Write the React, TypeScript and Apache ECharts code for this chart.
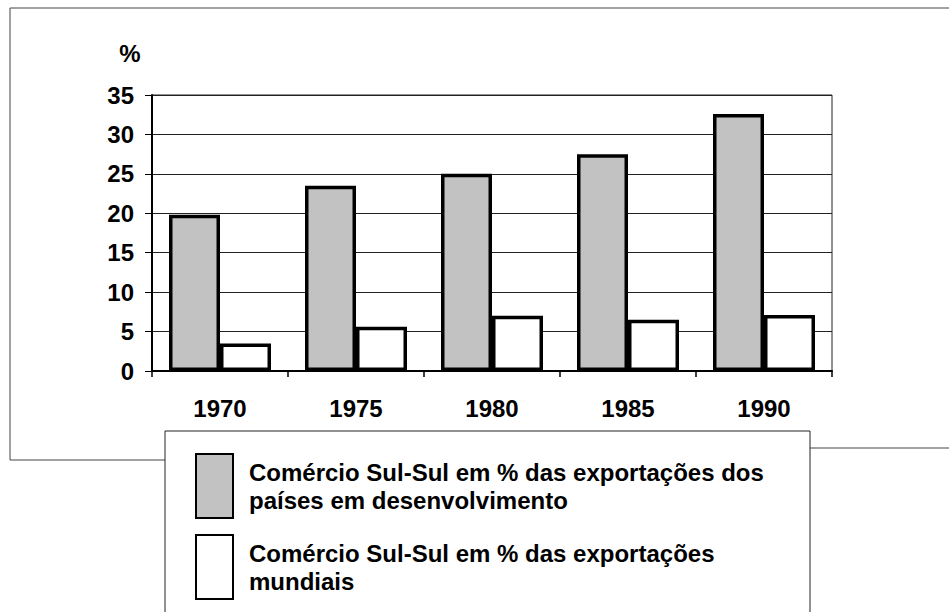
import React, { useEffect, useRef } from "react";
import * as echarts from "echarts";

const categories = ["1970", "1975", "1980", "1985", "1990"];
const seriesNames = [
  "Comércio Sul-Sul em % das exportações dos\npaíses em desenvolvimento",
  "Comércio Sul-Sul em % das exportações\nmundiais",
];
const developingShare = [19.8, 23.5, 25.0, 27.5, 32.6];
const worldShare = [3.5, 5.6, 7.0, 6.5, 7.1];
const yTicks = [0, 5, 10, 15, 20, 25, 30, 35];

const FONT = "'Liberation Sans', Arial, sans-serif";
const FS = 24;

export default function App() {
  const ref = useRef<HTMLDivElement>(null);
  useEffect(() => {
    if (!ref.current) return;
    const chart = echarts.init(ref.current, null, { renderer: "svg" });
    chart.setOption({
      animation: false,
      backgroundColor: "#ffffff",
      textStyle: { fontFamily: FONT },
      grid: {
        left: 152,
        top: 95,
        width: 680,
        height: 276,
        show: true,
        borderColor: "#222",
        borderWidth: 1,
        backgroundColor: "transparent",
      },
      xAxis: {
        type: "category",
        data: categories,
        axisLine: { lineStyle: { color: "#000", width: 2 } },
        axisTick: { show: true, length: 6, lineStyle: { color: "#000", width: 1.5 } },
        axisLabel: {
          margin: 25,
          color: "#000",
          fontSize: FS,
          fontWeight: "bold",
          fontFamily: FONT,
        },
      },
      yAxis: {
        type: "value",
        min: yTicks[0],
        max: yTicks[yTicks.length - 1],
        interval: 5,
        axisLine: { show: true, lineStyle: { color: "#000", width: 2 } },
        axisTick: { show: true, length: 7, lineStyle: { color: "#000", width: 1 } },
        axisLabel: {
          margin: 18,
          color: "#000",
          fontSize: FS,
          fontWeight: "bold",
          fontFamily: FONT,
        },
        splitLine: { show: true, lineStyle: { color: "#222", width: 1 } },
      },
      legend: {
        orient: "vertical",
        left: 195,
        top: 453,
        padding: 0,
        itemWidth: 37,
        itemHeight: 64,
        itemGap: 15,
        icon: "rect",
        data: seriesNames,
        textStyle: {
          color: "#000",
          fontSize: FS,
          fontWeight: "bold",
          fontFamily: FONT,
          lineHeight: 28,
          padding: [0, 0, 0, 11],
        },
      },
      graphic: [
        {
          type: "line",
          shape: { x1: 10, y1: 8, x2: 949, y2: 8 },
          style: { stroke: "#444", lineWidth: 1 },
          z: -10,
        },
        {
          type: "line",
          shape: { x1: 10, y1: 8, x2: 10, y2: 460 },
          style: { stroke: "#444", lineWidth: 1 },
          z: -10,
        },
        {
          type: "line",
          shape: { x1: 10, y1: 460, x2: 165, y2: 460 },
          style: { stroke: "#444", lineWidth: 1 },
          z: -10,
        },
        {
          type: "line",
          shape: { x1: 810, y1: 448, x2: 949, y2: 448 },
          style: { stroke: "#444", lineWidth: 1 },
          z: -10,
        },
        {
          type: "rect",
          shape: { x: 165, y: 431, width: 645, height: 200 },
          style: { fill: "#fff", stroke: "#222", lineWidth: 1 },
          z: -5,
        },
        {
          type: "text",
          x: 130,
          y: 53,
          style: {
            text: "%",
            fill: "#000",
            font: `bold ${FS}px ${FONT}`,
            textAlign: "center",
            textVerticalAlign: "middle",
          },
        },
      ],
      series: [
        {
          name: seriesNames[0],
          type: "bar",
          data: developingShare,
          barGap: "0%",
          barCategoryGap: "25%",
          itemStyle: { color: "#c2c2c2", borderColor: "#000", borderWidth: 3.5 },
        },
        {
          name: seriesNames[1],
          type: "bar",
          data: worldShare,
          barGap: "0%",
          barCategoryGap: "25%",
          itemStyle: { color: "#ffffff", borderColor: "#000", borderWidth: 3.5 },
        },
      ],
    });
    return () => chart.dispose();
  }, []);
  return (
    <div
      ref={ref}
      style={{ position: "absolute", left: 0, top: 0, width: 949, height: 612 }}
    />
  );
}
